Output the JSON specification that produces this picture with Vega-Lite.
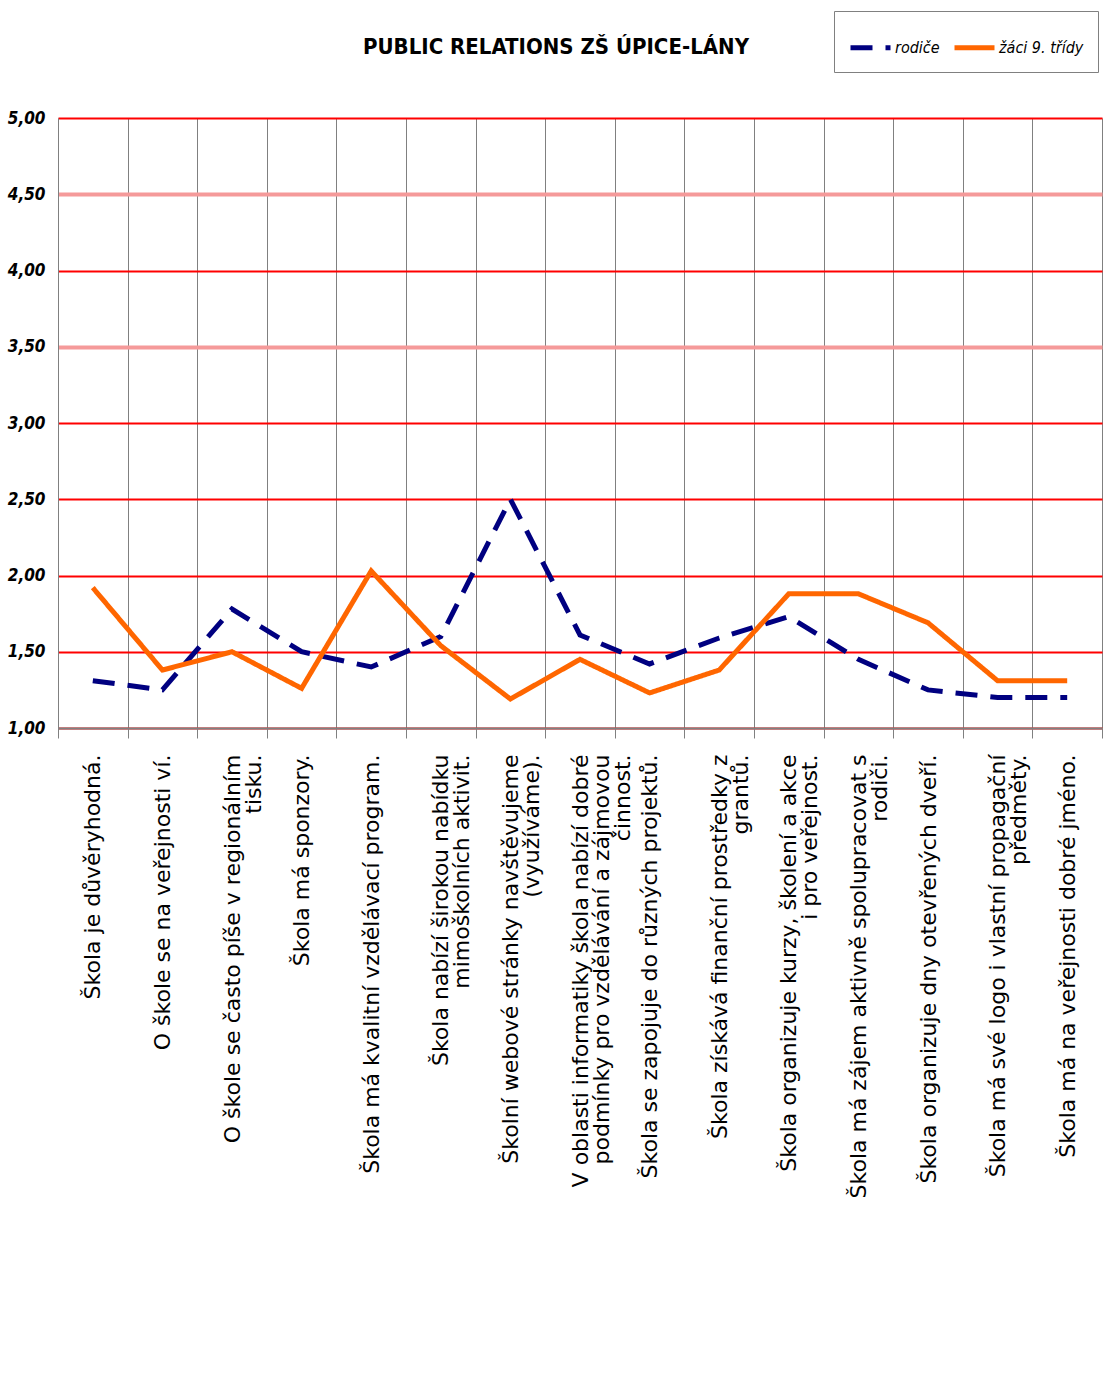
{
  "$schema": "https://vega.github.io/schema/vega-lite/v6.json",
  "autosize": "none",
  "width": 1044,
  "height": 610,
  "padding": {"left": 58, "top": 118, "right": 2, "bottom": 657},
  "background": "white",
  "config": {"view": {"stroke": null}},
  "title": {
    "text": "PUBLIC RELATIONS ZŠ ÚPICE-LÁNY",
    "font": "DejaVu Sans Condensed, sans-serif",
    "fontSize": 22,
    "fontWeight": "bold",
    "color": "#000000",
    "anchor": "middle",
    "dx": -24,
    "offset": -48
  },
  "data": {
    "values": [
      {"otazka": "Škola je důvěryhodná.", "skupina": "rodiče", "hodnota": 1.31},
      {"otazka": "O škole se na veřejnosti ví.", "skupina": "rodiče", "hodnota": 1.25},
      {"otazka": "O škole se často píše v regionálním\ntisku.", "skupina": "rodiče", "hodnota": 1.78},
      {"otazka": "Škola má sponzory.", "skupina": "rodiče", "hodnota": 1.50},
      {"otazka": "Škola má kvalitní vzdělávací program.", "skupina": "rodiče", "hodnota": 1.40},
      {"otazka": "Škola nabízí širokou nabídku\nmimoškolních aktivit.", "skupina": "rodiče", "hodnota": 1.60},
      {"otazka": "Školní webové stránky navštěvujeme\n(využíváme).", "skupina": "rodiče", "hodnota": 2.50},
      {"otazka": "V oblasti informatiky škola nabízí dobré\npodmínky pro vzdělávání a zájmovou\nčinnost.", "skupina": "rodiče", "hodnota": 1.61},
      {"otazka": "Škola se zapojuje do různých projektů.", "skupina": "rodiče", "hodnota": 1.42},
      {"otazka": "Škola získává finanční prostředky z\ngrantů.", "skupina": "rodiče", "hodnota": 1.59},
      {"otazka": "Škola organizuje kurzy, školení a akce\ni pro veřejnost.", "skupina": "rodiče", "hodnota": 1.73},
      {"otazka": "Škola má zájem aktivně spolupracovat s\nrodiči.", "skupina": "rodiče", "hodnota": 1.45},
      {"otazka": "Škola organizuje dny otevřených dveří.", "skupina": "rodiče", "hodnota": 1.25},
      {"otazka": "Škola má své logo i vlastní propagační\npředměty.", "skupina": "rodiče", "hodnota": 1.20},
      {"otazka": "Škola má na veřejnosti dobré jméno.", "skupina": "rodiče", "hodnota": 1.20},
      {"otazka": "Škola je důvěryhodná.", "skupina": "žáci 9. třídy", "hodnota": 1.92},
      {"otazka": "O škole se na veřejnosti ví.", "skupina": "žáci 9. třídy", "hodnota": 1.38},
      {"otazka": "O škole se často píše v regionálním\ntisku.", "skupina": "žáci 9. třídy", "hodnota": 1.50},
      {"otazka": "Škola má sponzory.", "skupina": "žáci 9. třídy", "hodnota": 1.26},
      {"otazka": "Škola má kvalitní vzdělávací program.", "skupina": "žáci 9. třídy", "hodnota": 2.03},
      {"otazka": "Škola nabízí širokou nabídku\nmimoškolních aktivit.", "skupina": "žáci 9. třídy", "hodnota": 1.54},
      {"otazka": "Školní webové stránky navštěvujeme\n(využíváme).", "skupina": "žáci 9. třídy", "hodnota": 1.19},
      {"otazka": "V oblasti informatiky škola nabízí dobré\npodmínky pro vzdělávání a zájmovou\nčinnost.", "skupina": "žáci 9. třídy", "hodnota": 1.45},
      {"otazka": "Škola se zapojuje do různých projektů.", "skupina": "žáci 9. třídy", "hodnota": 1.23},
      {"otazka": "Škola získává finanční prostředky z\ngrantů.", "skupina": "žáci 9. třídy", "hodnota": 1.38},
      {"otazka": "Škola organizuje kurzy, školení a akce\ni pro veřejnost.", "skupina": "žáci 9. třídy", "hodnota": 1.88},
      {"otazka": "Škola má zájem aktivně spolupracovat s\nrodiči.", "skupina": "žáci 9. třídy", "hodnota": 1.88},
      {"otazka": "Škola organizuje dny otevřených dveří.", "skupina": "žáci 9. třídy", "hodnota": 1.69},
      {"otazka": "Škola má své logo i vlastní propagační\npředměty.", "skupina": "žáci 9. třídy", "hodnota": 1.31},
      {"otazka": "Škola má na veřejnosti dobré jméno.", "skupina": "žáci 9. třídy", "hodnota": 1.31}
    ]
  },
  "mark": {"type": "line", "strokeWidth": 5, "strokeCap": "butt", "strokeJoin": "miter"},
  "encoding": {
    "x": {
      "field": "otazka",
      "type": "nominal",
      "sort": null,
      "bandPosition": 0.5,
      "scale": {"type": "band", "paddingInner": 0, "paddingOuter": 0},
      "axis": {
        "title": null,
        "tickBand": "extent",
        "grid": true,
        "gridColor": "#808080",
        "gridWidth": 1,
        "ticks": true,
        "tickSize": 10,
        "tickColor": "#808080",
        "domainColor": "#808080",
        "domainWidth": 2,
        "labelAngle": 270,
        "labelAlign": "right",
        "labelBaseline": "middle",
        "labelPadding": 16,
        "labelLimit": 800,
        "labelFont": "DejaVu Sans, sans-serif",
        "labelFontSize": 22,
        "labelLineHeight": 21,
        "labelColor": "#000000",
        "labelExpr": "split(datum.label, '\\n')"
      }
    },
    "y": {
      "field": "hodnota",
      "type": "quantitative",
      "scale": {"domain": [1, 5], "nice": false, "zero": false},
      "axis": {
        "title": null,
        "values": [1, 1.5, 2, 2.5, 3, 3.5, 4, 4.5, 5],
        "ticks": false,
        "grid": true,
        "gridColor": {"condition": {"test": "datum.value == 4.5 || datum.value == 3.5", "value": "#f59a9a"}, "value": "#ff0000"},
        "gridWidth": {"condition": {"test": "datum.value == 4.5 || datum.value == 3.5", "value": 4}, "value": 2},
        "domainColor": "#808080",
        "domainWidth": 1,
        "labelPadding": 13,
        "labelFont": "DejaVu Sans Condensed, sans-serif",
        "labelFontSize": 17,
        "labelFontWeight": "bold",
        "labelFontStyle": "italic",
        "labelColor": "#000000",
        "labelExpr": "replace(format(datum.value, '.2f'), '.', ',')"
      }
    },
    "color": {
      "field": "skupina",
      "type": "nominal",
      "scale": {"domain": ["rodiče", "žáci 9. třídy"], "range": ["#000080", "#ff6600"]},
      "legend": {
        "title": null,
        "orient": "none",
        "legendX": 776,
        "legendY": -107,
        "direction": "horizontal",
        "strokeColor": "#808080",
        "fillColor": "white",
        "padding": 14,
        "symbolType": "stroke",
        "symbolSize": 1600,
        "symbolStrokeWidth": 5,
        "labelFont": "DejaVu Sans Condensed, sans-serif",
        "labelFontSize": 16,
        "labelFontStyle": "italic",
        "labelColor": "#000000",
        "labelOffset": 2,
        "columnPadding": 4
      }
    },
    "strokeDash": {
      "field": "skupina",
      "type": "nominal",
      "scale": {"domain": ["rodiče", "žáci 9. třídy"], "range": [[22, 13], [1, 0]]},
      "legend": null
    }
  }
}
